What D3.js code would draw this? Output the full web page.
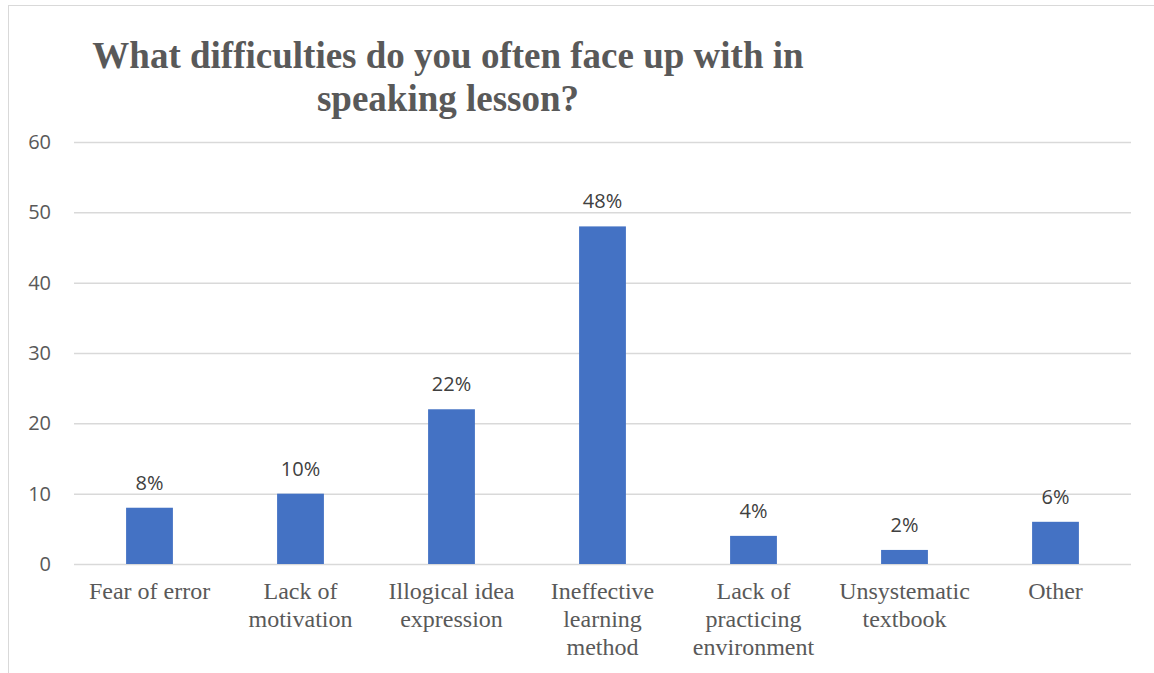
<!DOCTYPE html>
<html>
<head>
<meta charset="utf-8">
<script src="https://cdn.jsdelivr.net/npm/d3@7"></script>
<style>
  html, body { margin: 0; padding: 0; background: #fff; }
  svg { display: block; }
</style>
</head>
<body>
<svg id="chart" width="1154" height="673"></svg>
<script>
// Survey responses: share of students (%) naming each difficulty
const categories = [
  ["Fear of error"],
  ["Lack of", "motivation"],
  ["Illogical idea", "expression"],
  ["Ineffective", "learning", "method"],
  ["Lack of", "practicing", "environment"],
  ["Unsystematic", "textbook"],
  ["Other"]
];
const values = [8, 10, 22, 48, 4, 2, 6];
const valueLabels = ["8%", "10%", "22%", "48%", "4%", "2%", "6%"];
const yTicks = [0, 10, 20, 30, 40, 50, 60];
const titleLines = ["What difficulties do you often face up with in", "speaking lesson?"];

const svg = d3.select("#chart");
const W = 1154, H = 673;
const margin = { left: 74, right: W - 1131, top: 142, bottom: H - 564 };
const sans = "'Open Sans', 'Liberation Sans', sans-serif";
const serif = "'Liberation Serif', 'Times New Roman', serif";

// chart frame
svg.append("rect")
  .attr("x", 8.5).attr("y", 5.5)
  .attr("width", W).attr("height", H)
  .attr("fill", "#fff").attr("stroke", "#d9d9d9").attr("stroke-width", 1);

const x = d3.scaleBand()
  .domain(d3.range(categories.length))
  .range([margin.left, W - margin.right])
  .paddingInner(0.69).paddingOuter(0.345);

const y = d3.scaleLinear()
  .domain([0, 60])
  .range([H - margin.bottom, margin.top]);

// gridlines
const grid = d3.axisLeft(y).tickValues(yTicks)
  .tickSize(-(W - margin.left - margin.right)).tickFormat("");
svg.append("g")
  .attr("transform", `translate(${margin.left},0)`)
  .call(grid)
  .call(g => g.select(".domain").remove())
  .call(g => g.selectAll("line").attr("stroke", "#d9d9d9").attr("stroke-width", 1.5));

// y tick labels
const yAxis = d3.axisLeft(y).tickValues(yTicks).tickSize(0).tickPadding(23);
svg.append("g")
  .attr("transform", `translate(${margin.left},0)`)
  .call(yAxis)
  .call(g => g.select(".domain").remove())
  .call(g => g.selectAll("text")
    .attr("font-family", sans)
    .attr("font-size", 20).attr("fill", "#595959"));

// bars
svg.append("g").selectAll("rect")
  .data(values)
  .join("rect")
  .attr("x", (d, i) => x(i))
  .attr("y", d => y(d))
  .attr("width", x.bandwidth())
  .attr("height", d => y(0) - y(d))
  .attr("fill", "#4472c4");

// value labels
svg.append("g").selectAll("text")
  .data(values)
  .join("text")
  .attr("x", (d, i) => x(i) + x.bandwidth() / 2)
  .attr("y", d => y(d) - 18)
  .attr("text-anchor", "middle")
  .attr("font-family", sans)
  .attr("font-size", 20).attr("fill", "#404040")
  .text((d, i) => valueLabels[i]);

// category labels
const xAxis = d3.axisBottom(x).tickSize(0).tickFormat("");
const xg = svg.append("g")
  .attr("transform", `translate(0,${y(0)})`)
  .call(xAxis)
  .call(g => g.select(".domain").remove());
xg.selectAll(".tick").each(function (i) {
  const t = d3.select(this).append("text")
    .attr("text-anchor", "middle")
    .attr("font-family", serif)
    .attr("font-size", 24).attr("fill", "#595959");
  categories[i].forEach((line, k) => {
    t.append("tspan").attr("x", 0).attr("y", 35 + k * 28).text(line);
  });
});

// title
const title = svg.append("text")
  .attr("text-anchor", "middle")
  .attr("font-family", serif)
  .attr("font-weight", "bold")
  .attr("font-size", 37).attr("fill", "#595959");
titleLines.forEach((line, k) => {
  title.append("tspan").attr("x", 448).attr("y", 68 + k * 43).text(line);
});
</script>
</body>
</html>
